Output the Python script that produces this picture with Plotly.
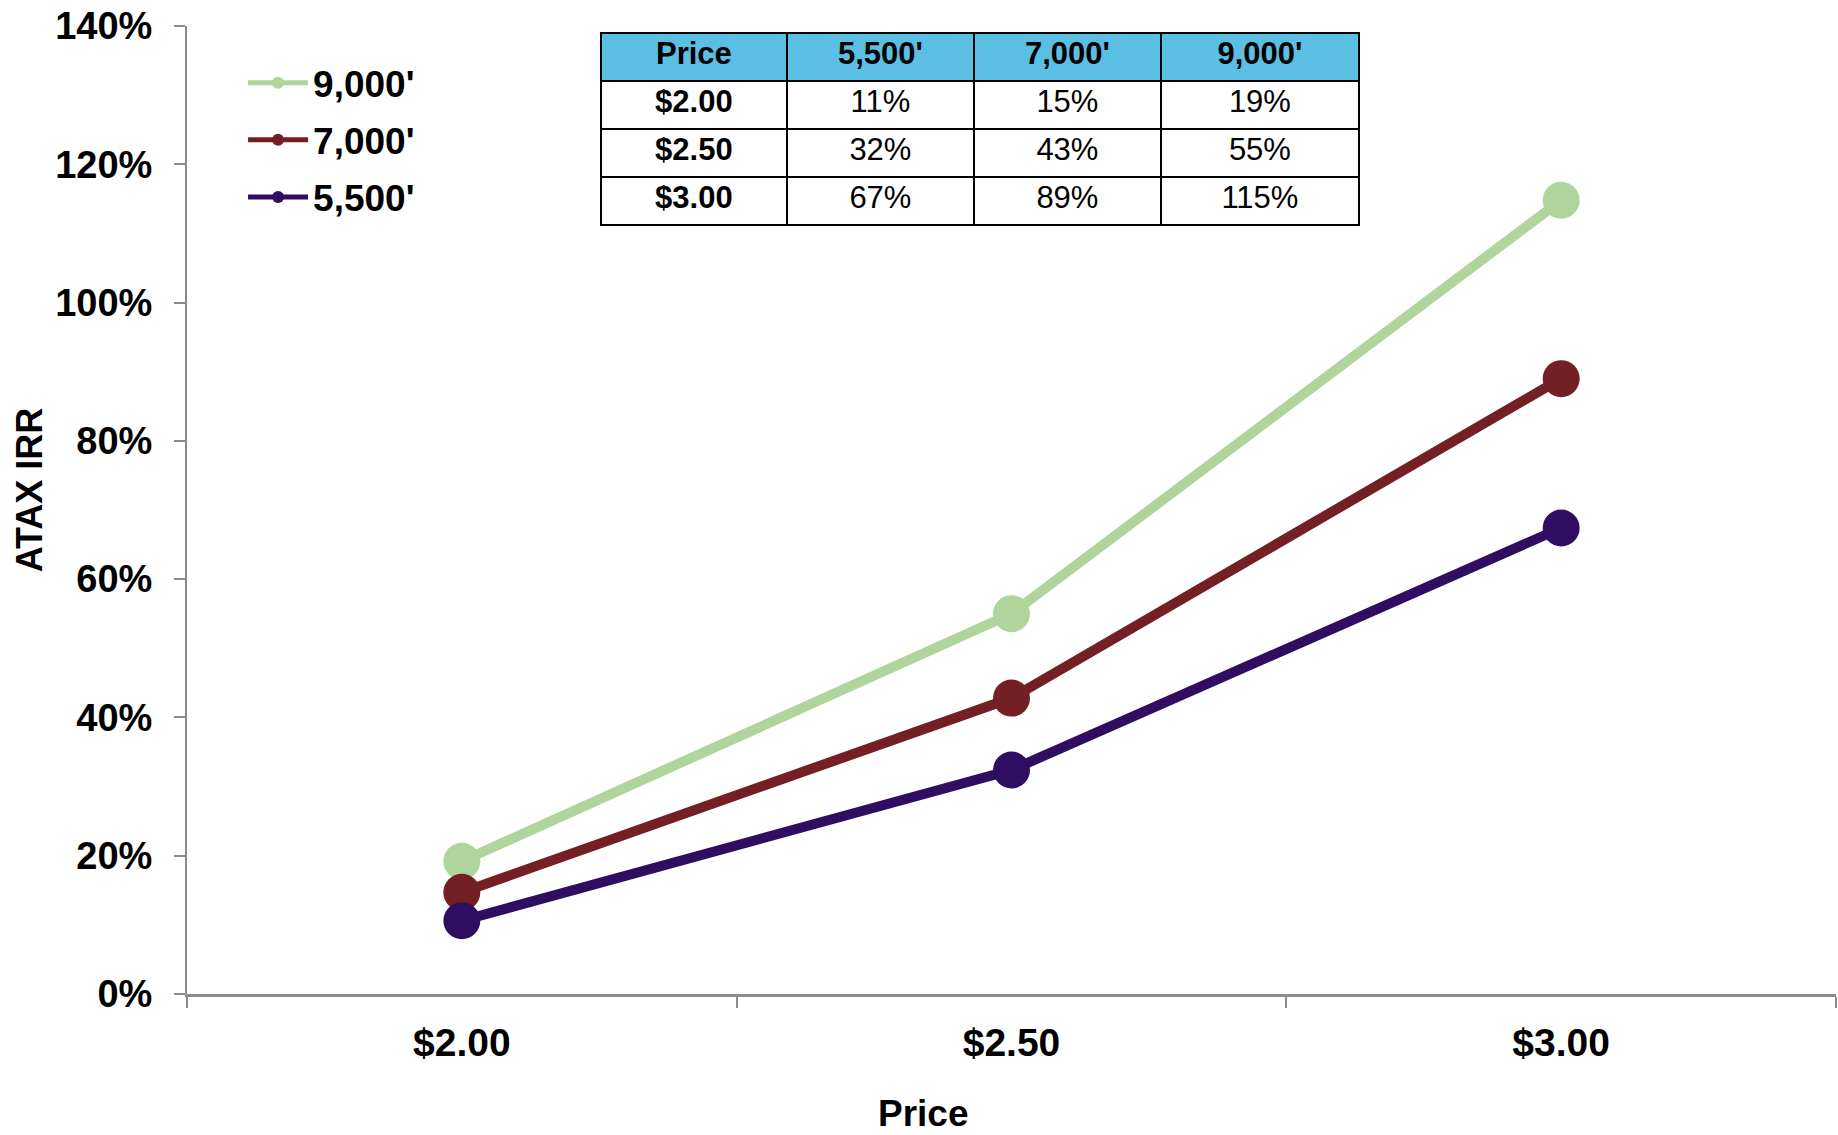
import plotly.graph_objects as go

prices = ["$2.00", "$2.50", "$3.00"]
irr_9000 = [19.2, 55.0, 114.8]
irr_7000 = [14.7, 42.8, 89.0]
irr_5500 = [10.6, 32.4, 67.4]
series_names = ["9,000'", "7,000'", "5,500'"]
series_colors = ["#AFD59C", "#741F23", "#2F0D60"]
table_header = ["Price", "5,500'", "7,000'", "9,000'"]

FONT = "Liberation Sans, Arial, sans-serif"

fig = go.Figure()
for name, vals, col in zip(series_names, [irr_9000, irr_7000, irr_5500], series_colors):
    fig.add_trace(go.Scatter(
        x=prices, y=vals, name=name, mode="lines+markers",
        line=dict(color=col, width=10),
        marker=dict(color=col, size=37),
        legendgroup=name, xaxis="x", yaxis="y",
    ))

def pct(v):
    return f"{round(v):d}%"

fig.add_trace(go.Table(
    domain=dict(x=[0.251, 0.711], y=[0.78, 0.9928]),
    columnwidth=[186, 187, 187, 198],
    header=dict(
        values=table_header,
        fill_color="#5BBFE4",
        line=dict(color="black", width=2),
        font=dict(family=FONT, size=31, color="black", weight="bold"),
        align="center", height=48,
    ),
    cells=dict(
        values=[prices,
                [pct(v) for v in irr_5500],
                [pct(v) for v in irr_7000],
                [pct(v) for v in irr_9000]],
        fill_color="white",
        line=dict(color="black", width=2),
        font=dict(family=FONT, size=31, color="black",
                  weight=["bold", "normal", "normal", "normal"]),
        align="center", height=48,
    ),
))

fig.update_layout(
    width=1838, height=1135,
    margin=dict(l=187, r=2, t=26, b=141, autoexpand=False),
    paper_bgcolor="white", plot_bgcolor="white",
    font=dict(family=FONT, color="black"),
    showlegend=True,
    legend=dict(
        x=0.034, y=0.973, xanchor="left", yanchor="top",
        font=dict(family=FONT, size=37, color="black", weight="bold"),
        itemsizing="constant", tracegroupgap=6, itemwidth=60,
        bgcolor="rgba(0,0,0,0)",
    ),
    xaxis=dict(
        type="category", range=[-0.5, 2.5], automargin=False,
        tickson="boundaries", ticks="outside", ticklen=11, tickwidth=2,
        tickcolor="#8C8C8C", showline=True, linecolor="#8C8C8C", linewidth=3,
        showgrid=False, zeroline=False,
        tickfont=dict(family=FONT, size=39, color="black", weight="bold"),
        ticklabelstandoff=12,
    ),
    yaxis=dict(
        range=[0, 140], dtick=20, tickformat=".0f", ticksuffix="%", automargin=False,
        ticks="outside", ticklen=11, tickwidth=2, tickcolor="#8C8C8C",
        showline=True, linecolor="#8C8C8C", linewidth=2,
        showgrid=False, zeroline=False,
        tickfont=dict(family=FONT, size=38, color="black", weight="bold"),
        ticklabelstandoff=14,
    ),
    annotations=[
        dict(text="Price", xref="paper", yref="paper", x=(923 - 187) / 1649, y=-0.123,
             xanchor="center", yanchor="middle", showarrow=False,
             font=dict(family=FONT, size=37, color="black", weight="bold")),
        dict(text="ATAX IRR", xref="paper", yref="paper", x=-0.095, y=(994 - 490) / 968,
             xanchor="center", yanchor="middle", showarrow=False, textangle=-90,
             font=dict(family=FONT, size=36, color="black", weight="bold")),
    ],
)

fig.write_html("out.html", config={"displayModeBar": False},
               post_script="document.body.style.margin='0';")
